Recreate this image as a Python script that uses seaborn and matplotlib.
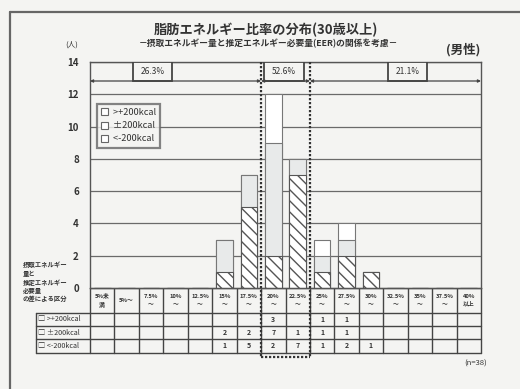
import matplotlib
matplotlib.use("Agg")
import matplotlib.pyplot as plt
from matplotlib.patches import Rectangle, Patch
import seaborn as sns

# ---- data -------------------------------------------------------------
categories = ["5%未満", "5%～", "7.5%～", "10%～", "12.5%～", "15%～", "17.5%～", "20%～",
              "22.5%～", "25%～", "27.5%～", "30%～", "32.5%～", "35%～", "37.5%～", "40%以上"]
header_labels = ["5%未\n満", "5%～", "7.5%\n～", "10%\n～", "12.5%\n～", "15%\n～", "17.5%\n～",
                 "20%\n～", "22.5%\n～", "25%\n～", "27.5%\n～", "30%\n～", "32.5%\n～",
                 "35%\n～", "37.5%\n～", "40%\n以上"]
over_200 = [0, 0, 0, 0, 0, 0, 0, 3, 0, 1, 1, 0, 0, 0, 0, 0]
within_200 = [0, 0, 0, 0, 0, 2, 2, 7, 1, 1, 1, 0, 0, 0, 0, 0]
under_200 = [0, 0, 0, 0, 0, 1, 5, 2, 7, 1, 2, 1, 0, 0, 0, 0]
series_labels = [">+200kcal", "±200kcal", "<-200kcal"]
# category index ranges for the three fat-energy bands (<20%, 20-25%, >=25%)
band_ranges = [(0, 6), (7, 8), (9, 15)]
band_label_x = [2.05, 7.45, 12.5]
y_ticks = [0, 2, 4, 6, 8, 10, 12, 14]

title = "脂肪エネルギー比率の分布(30歳以上)"
subtitle = "－摂取エネルギー量と推定エネルギー必要量(EER)の関係を考慮－"
sex_label = "(男性)"
unit_label = "(人)"
row_header = ["摂取エネルギー", "量と", "推定エネルギー", "必要量", "の差による区分"]

# ---- derived values ----------------------------------------------------
totals = [a + b + c for a, b, c in zip(over_200, within_200, under_200)]
lower_two = [b + c for b, c in zip(within_200, under_200)]
n_total = sum(totals)
band_pct = [sum(totals[i0:i1 + 1]) / n_total * 100 for i0, i1 in band_ranges]

# ---- style -------------------------------------------------------------
sns.set_style("white")
plt.rcParams["font.family"] = ["Noto Sans CJK JP", "DejaVu Sans"]
plt.rcParams["hatch.linewidth"] = 1.0
bg = "#f4f4f2"
line_c = "#555555"
dark = "#333333"

W, H = 520, 389
fig = plt.figure(figsize=(W / 100, H / 100), dpi=100, facecolor=bg)

def fpos(x0, y0, x1, y1):
    return [x0 / W, 1 - y1 / H, (x1 - x0) / W, (y1 - y0) / H]

# geometry of the chart area in pixels
PX_L, PX_R, PX_TOP, PX_ZERO = 90, 481, 62, 288
TAB_L, TAB_BOT = 36, 352.7
col_w = (PX_R - PX_L) / len(categories)
px_per_unit = (PX_ZERO - PX_TOP) / 14

over = fig.add_axes([0, 0, 1, 1], zorder=0)
over.set_xlim(0, W)
over.set_ylim(H, 0)
over.axis("off")

ax = fig.add_axes(fpos(PX_L, PX_TOP, PX_R, PX_ZERO), zorder=3)
ax.set_facecolor(bg)

# stacked bars, drawn as overlapping cumulative heights
sns.barplot(x=categories, y=totals, order=categories, color="white", saturation=1,
            width=0.68, edgecolor="#777777", linewidth=0.8, ax=ax)
sns.barplot(x=categories, y=lower_two, order=categories, color="#e8eaea", saturation=1,
            width=0.68, edgecolor="#777777", linewidth=0.8, ax=ax)
sns.barplot(x=categories, y=under_200, order=categories, color="white", saturation=1,
            width=0.68, edgecolor="#555555", linewidth=0.8, hatch="\\\\\\", ax=ax)

ax.set_xlim(-0.5, len(categories) - 0.5)
ax.set_ylim(0, 14)
ax.set_yticks(y_ticks)
ax.set_xlabel("")
ax.set_ylabel("")
ax.tick_params(axis="x", labelbottom=False, length=0)
ax.tick_params(axis="y", length=0, pad=8, labelsize=7, labelcolor=dark)
for t in ax.get_yticklabels():
    t.set_fontweight("bold")
ax.yaxis.grid(True, color="#6a6a6a", lw=0.9)
ax.set_axisbelow(True)
for s in ax.spines.values():
    s.set_color(line_c)
    s.set_linewidth(1.0)

# top band: share of each fat-energy range
band_y = 14 - (81 - PX_TOP) / px_per_unit
for (i0, i1), cx, pct in zip(band_ranges, band_label_x, band_pct):
    bw = 1.62
    ax.add_patch(Rectangle((cx - bw / 2, band_y), bw, 14 - band_y, facecolor=bg,
                           edgecolor="#444444", lw=1.3, zorder=4))
    ax.text(cx, (band_y + 14) / 2, f"{pct:.1f}%", ha="center", va="center",
            fontsize=6, color=dark, zorder=5)
    ax.annotate("", xy=(i1 + 0.5, band_y), xytext=(i0 - 0.5, band_y),
                arrowprops=dict(arrowstyle="<|-|>", mutation_scale=4, lw=0.9,
                                color="#444444", shrinkA=0, shrinkB=0), zorder=4)

# dotted frame around the 20-25% range, running down through the table
y_low = -(357 - PX_ZERO) / px_per_unit
i0, i1 = band_ranges[1]
dot = dict(color="#333333", lw=1.6, ls=(0, (1, 0.8)), clip_on=False, zorder=6)
ax.plot([i0 - 0.5, i0 - 0.5], [14, y_low], **dot)
ax.plot([i1 + 0.5, i1 + 0.5], [14, y_low], **dot)
ax.plot([i0 - 0.5, i1 + 0.5], [y_low, y_low], **dot)

# legend
handles = [Patch(facecolor="white", edgecolor="#666666", lw=0.8) for _ in series_labels]
leg = ax.legend(handles, [" " + s for s in series_labels], loc="upper left",
                bbox_to_anchor=((97 - PX_L) / (PX_R - PX_L), (PX_ZERO - 104) / (PX_ZERO - PX_TOP)),
                fontsize=6.6, frameon=True, fancybox=False, handlelength=0.8,
                handleheight=0.8, handletextpad=0.3, labelspacing=0.45, borderpad=0.45,
                borderaxespad=0)
leg.get_frame().set_edgecolor("#666666")
leg.get_frame().set_linewidth(1.6)
leg.get_frame().set_facecolor(bg)
for t in leg.get_texts():
    t.set_color(dark)

# ---- table below the chart --------------------------------------------
tab = fig.add_axes(fpos(TAB_L, PX_ZERO, PX_R, TAB_BOT), zorder=2)
x_left = -0.5 - (PX_L - TAB_L) / col_w
tab.set_xlim(x_left, len(categories) - 0.5)
tab_h = TAB_BOT - PX_ZERO
tab.set_ylim(tab_h, 0)
tab.axis("off")
rows = [0, 24.7, 38.0, 51.3, tab_h]
tl = dict(color="#444444", lw=1.0, clip_on=False)
tab.plot([-0.5, len(categories) - 0.5], [0, 0], **tl)
for yv in rows[1:]:
    tab.plot([x_left, len(categories) - 0.5], [yv, yv], **tl)
tab.plot([x_left, x_left], [rows[1], tab_h], **tl)
for k in range(len(categories) + 1):
    tab.plot([k - 0.5, k - 0.5], [0, tab_h], **tl)
for k, lab in enumerate(header_labels):
    tab.text(k, rows[1] / 2, lab, ha="center", va="center", fontsize=4.2,
             fontweight="bold", color=dark, linespacing=1.5)
for r, (lab, vals) in enumerate(zip(series_labels, [over_200, within_200, under_200])):
    yc = (rows[r + 1] + rows[r + 2]) / 2
    tab.text(x_left + 0.1, yc, "□ " + lab, ha="left", va="center", fontsize=5.2, color=dark)
    for k, v in enumerate(vals):
        if v:
            tab.text(k, yc, str(v), ha="center", va="center", fontsize=5,
                     fontweight="bold", color=dark)

# ---- titles, frame and notes --------------------------------------------
over.plot([10, 10], [12, H], color="#666666", lw=1.6)
over.plot([10, W], [12, 12], color="#666666", lw=1.6)
over.text(266, 30, title, ha="center", va="center", fontsize=9.5, fontweight="bold", color=dark)
over.text(268, 44, subtitle, ha="center", va="center", fontsize=6.3, fontweight="bold",
          color=dark)
over.text(480, 50, sex_label, ha="right", va="center", fontsize=9, fontweight="bold", color=dark)
over.text(72, 45, unit_label, ha="center", va="center", fontsize=5.5, color=dark)
for i, line in enumerate(row_header):
    over.text(23, 265 + i * 8.5, line, ha="left", va="center", fontsize=4.6,
              fontweight="bold", color=dark)
over.text(487, 364, f"(n={n_total})", ha="right", va="center", fontsize=5.5, color=dark)

fig.savefig("out.png", dpi=100, facecolor=bg)
